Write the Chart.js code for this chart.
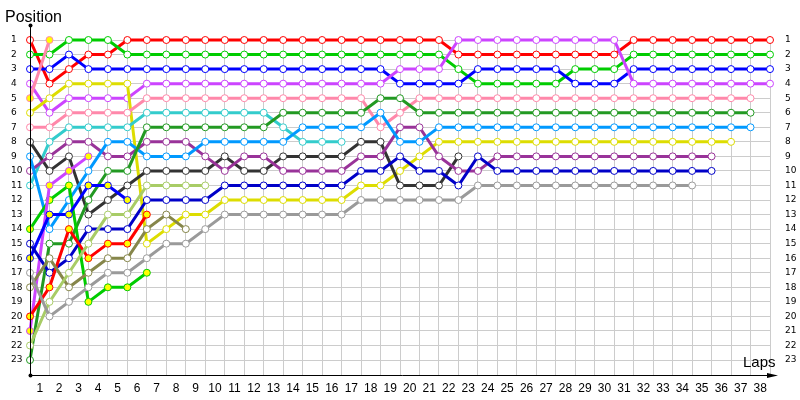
<!DOCTYPE html>
<html><head><meta charset="utf-8">
<script src="https://cdn.jsdelivr.net/npm/chart.js@4.4.1/dist/chart.umd.min.js"></script>
<style>html,body{margin:0;padding:0;background:#fff}#wrap{width:800px;height:400px;position:relative}</style>
</head><body><div id="wrap"><canvas id="c"></canvas></div>
<script>
// ---- data (position per lap, index = lap number, lap 0 = start grid) ----
const lapTicks = [0,1,2,3,4,5,6,7,8,9,10,11,12,13,14,15,16,17,18,19,20,21,22,23,24,25,26,27,28,29,30,31,32,33,34,35,36,37,38];
const positionTicks = [1,2,3,4,5,6,7,8,9,10,11,12,13,14,15,16,17,18,19,20,21,22,23];

const red        = [1,4,3,2,2,1,1,1,1,1,1,1,1,1,1,1,1,1,1,1,1,1,2,2,2,2,2,2,2,2,2,1,1,1,1,1,1,1,1];
const green      = [2,2,1,1,1,2,2,2,2,2,2,2,2,2,2,2,2,2,2,2,2,2,3,4,4,4,4,4,3,3,3,2,2,2,2,2,2,2,2];
const blue       = [3,3,2,3,3,3,3,3,3,3,3,3,3,3,3,3,3,3,3,4,4,4,4,3,3,3,3,3,4,4,4,3,3,3,3,3,3,3,3];
const violet     = [4,6,5,5,5,5,4,4,4,4,4,4,4,4,4,4,4,4,4,3,3,3,1,1,1,1,1,1,1,1,1,4,4,4,4,4,4,4,4];
const yellow     = [6,5,4,4,4,4,15,14,13,13,12,12,12,12,12,12,12,11,11,10,9,8,8,8,8,8,8,8,8,8,8,8,8,8,8,8,8];
const pink       = [7,7,6,6,6,6,5,5,5,5,5,5,5,5,5,5,5,5,7,6,5,5,5,5,5,5,5,5,5,5,5,5,5,5,5,5,5,5];
const pinkB      = [5,1];
const cyan       = [11,8,7,7,7,7,6,6,6,6,6,6,6,7,8,8,8];
const darkGray   = [8,10,9,13,12,11,10,10,10,10,9,10,10,9,9,9,9,8,8,11,11,11,9];
const purple     = [10,9,8,8,9,9,8,8,8,9,10,9,9,10,10,10,10,9,9,7,7,9,10,10,9,9,9,9,9,9,9,9,9,9,9,9];
const lightBlue  = [9,14,12,10,8,8,9,9,9,8,8,8,8,8,7,7,7,7,6,8,8,7,7,7,7,7,7,7,7,7,7,7,7,7,7,7,7,7];
const darkGreen  = [23,15,15,12,10,10,7,7,7,7,7,7,7,6,6,6,6,6,5,5,6,6,6,6,6,6,6,6,6,6,6,6,6,6,6,6,6,6];
const greenB     = [14,12,11,19,18,18,17];
const violetB    = [21,11,10,9];
const blueB      = [16,13,13,11,11,12];
const navy       = [15,17,16,14,14,14,12,12,12,12,11,11,11,11,11,11,11,10,10,9,10,10,11,9,10,10,10,10,10,10,10,10,10,10,10,10];
const redB       = [20,18,14,16,15,15,13];
const olive      = [18,16,18,17,16,16,14,13,14];
const lightGreen = [22,19,17,15,13,13,11,11,11,11];
const gray       = [17,20,19,18,17,17,16,15,15,14,13,13,13,13,13,13,13,12,12,12,12,12,12,11,11,11,11,11,11,11,11,11,11,11,11];

// ---- styling ----
const seriesList = [
  {v: gray,       c:'#9a9a9a', f:'#ffffff'},
  {v: lightGreen, c:'#a8cc66', f:'#ffffff'},
  {v: olive,      c:'#86864a', f:'#ffffff'},
  {v: redB,       c:'#ff0000', f:'#ffff00'},
  {v: navy,       c:'#0000c8', f:'#ffffff'},
  {v: blueB,      c:'#0000ff', f:'#ffff00'},
  {v: violetB,    c:'#cc44ff', f:'#ffff00'},
  {v: greenB,     c:'#00cc00', f:'#ffff00'},
  {v: darkGreen,  c:'#229922', f:'#ffffff'},
  {v: lightBlue,  c:'#0099ff', f:'#ffffff'},
  {v: purple,     c:'#993399', f:'#ffffff'},
  {v: darkGray,   c:'#333333', f:'#ffffff'},
  {v: cyan,       c:'#33cccc', f:'#ffffff'},
  {v: pinkB,      c:'#ff88aa', f:'#ffff00'},
  {v: pink,       c:'#ff88aa', f:'#ffffff'},
  {v: yellow,     c:'#dddd00', f:'#ffffff'},
  {v: violet,     c:'#cc44ff', f:'#ffffff'},
  {v: blue,       c:'#0000ff', f:'#ffffff'},
  {v: green,      c:'#00cc00', f:'#ffffff'},
  {v: red,        c:'#ff0000', f:'#ffffff'}
];

const datasets = seriesList.map(s => ({
  data: s.v.map((p, i) => ({x: lapTicks[i], y: p})),
  borderColor: s.c,
  backgroundColor: s.c,
  borderWidth: 3,
  pointRadius: 3.5,
  pointBorderWidth: 1,
  pointBorderColor: s.c,
  pointBackgroundColor: s.f,
  tension: 0,
  clip: false
}));

const decor = {
  id: 'decor',
  afterDraw(chart) {
    const {ctx, chartArea: a, scales} = chart;
    const topY = scales.y.getPixelForValue(0);
    const x0 = Math.round(a.left) + 0.5;
    const yb = Math.round(a.bottom) + 0.5;
    ctx.save();
    ctx.strokeStyle = '#000'; ctx.fillStyle = '#000'; ctx.lineWidth = 1;
    ctx.beginPath(); ctx.moveTo(x0, topY); ctx.lineTo(x0, yb); ctx.stroke();
    ctx.beginPath(); ctx.moveTo(x0, yb); ctx.lineTo(a.right + 4, yb); ctx.stroke();
    ctx.beginPath(); ctx.moveTo(a.right + 8, yb); ctx.lineTo(a.right - 3, yb - 2.5); ctx.lineTo(a.right - 3, yb + 2.5); ctx.closePath(); ctx.fill();
    ctx.beginPath(); ctx.arc(x0, topY, 2, 0, Math.PI * 2); ctx.fill();
    ctx.beginPath(); ctx.arc(x0, yb, 2, 0, Math.PI * 2); ctx.fill();
    ctx.font = '16px "Liberation Sans", Arial, sans-serif';
    ctx.textAlign = 'left'; ctx.textBaseline = 'alphabetic';
    ctx.fillText('Position', 5, 22);
    ctx.font = '15px "Liberation Sans", Arial, sans-serif';
    ctx.fillText('Laps', 743, 367);
    ctx.restore();
  }
};

new Chart(document.getElementById('c'), {
  type: 'line',
  data: { datasets },
  options: {
    responsive: true,
    maintainAspectRatio: false,
    animation: false,
    layout: { padding: { left: 11, top: 40, right: 0, bottom: 0 } },
    plugins: { legend: { display: false }, tooltip: { enabled: false } },
    scales: {
      x: {
        type: 'linear', min: 0, max: 38,
        afterBuildTicks: ax => { ax.ticks = lapTicks.map(v => ({value: v})); },
        afterFit: ax => { ax.height = 25.4; },
        grid: { color: '#cccccc', lineWidth: 1, drawTicks: false },
        border: { display: false },
        ticks: {
          color: '#000', padding: 7, labelOffset: -9.74, maxRotation: 0, autoSkip: false,
          font: { family: '"Liberation Sans", Arial, sans-serif', size: 12 },
          callback: v => v === 0 ? '' : String(v)
        }
      },
      y: {
        type: 'linear', position: 'left', reverse: true, min: 1, max: 24,
        afterBuildTicks: ax => { ax.ticks = positionTicks.map(v => ({value: v})); },
        afterFit: ax => { ax.width = 19; },
        grid: { color: '#cccccc', lineWidth: 1, drawTicks: false },
        border: { display: false },
        ticks: {
          color: '#000', crossAlign: 'far', padding: 0, autoSkip: false,
          font: { family: '"DejaVu Sans", sans-serif', size: 9 }
        }
      },
      y2: {
        type: 'linear', position: 'right', reverse: true, min: 1, max: 24,
        afterBuildTicks: ax => { ax.ticks = positionTicks.map(v => ({value: v})); },
        afterFit: ax => { ax.width = 30; },
        grid: { display: false },
        border: { display: false },
        ticks: {
          color: '#000', padding: 7, autoSkip: false,
          font: { family: '"DejaVu Sans", sans-serif', size: 9 }
        }
      }
    }
  },
  plugins: [decor]
});
</script>
</body></html>
